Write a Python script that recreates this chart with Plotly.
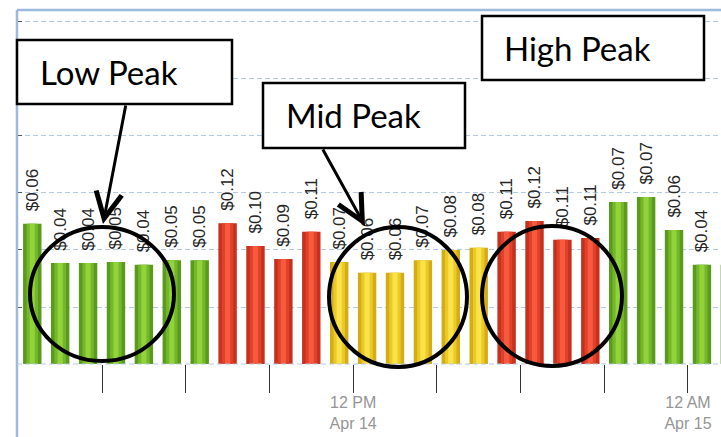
import plotly.graph_objects as go
import pandas as pd

# ---------------- data ----------------
hour_starts = pd.date_range("2014-04-14 00:00", periods=26, freq="h")
usage = [2.46, 1.77, 1.77, 1.79, 1.74, 1.82, 1.82,
         2.47, 2.07, 1.84, 2.32,
         1.79, 1.60, 1.60, 1.82, 2.00, 2.04,
         2.32, 2.51, 2.18, 2.21,
         2.84, 2.93, 2.35, 1.74, 1.74]
cost_labels = ["$0.06", "$0.04", "$0.04", "$0.05", "$0.04", "$0.05", "$0.05",
               "$0.12", "$0.10", "$0.09", "$0.11",
               "$0.07", "$0.06", "$0.06", "$0.07", "$0.08", "$0.08",
               "$0.11", "$0.12", "$0.11", "$0.11",
               "$0.07", "$0.07", "$0.06", "$0.04", "$0.04"]
periods = ["low"] * 7 + ["high"] * 4 + ["mid"] * 6 + ["high"] * 4 + ["low"] * 5

tick_vals = pd.date_range("2014-04-14 03:00", "2014-04-15 03:00", freq="3h")
tick_text = ["", "", "", "12 PM<br>Apr 14", "", "", "", "12 AM<br>Apr 15", ""]

peak_names = ["Low Peak", "Mid Peak", "High Peak"]

# ---------------- styles ----------------
W, H = 721, 437
ML, MR, MT, MB = 17, 0, 10, 73
PW, PH = W - ML - MR, H - MT - MB

def px(x):
    return (x - ML) / PW

def py(y):
    return (H - MB - y) / PH

PALETTE = {
    "low": ["#5a9a1c", "#74b82a", "#92d33c"],
    "mid": ["#d2ad16", "#ecca26", "#fae24c"],
    "high": ["#c5311f", "#e3402a", "#f65a3f"],
}
HOUR_MS = 3600000
BAR_W = 0.66 * HOUR_MS

fig = go.Figure()
for i, frac in enumerate([1.0, 0.62, 0.28]):
    fig.add_trace(go.Bar(
        x=hour_starts, y=usage,
        xperiod=HOUR_MS, xperiodalignment="middle",
        width=BAR_W * frac,
        marker=dict(color=[PALETTE[p][i] for p in periods], line=dict(width=0)),
        text=["\u00a0\u00a0" + t for t in cost_labels] if i == 0 else None,
        textposition="outside" if i == 0 else "none",
        textangle=-90,
        textfont=dict(family="Liberation Sans", size=17, color="#262626"),
        constraintext="none",
        cliponaxis=False,
        hoverinfo="skip",
    ))

grid_col = "#b4c9e3"
fig.update_layout(
    width=W, height=H,
    margin=dict(l=ML, r=MR, t=MT, b=MB, pad=0),
    paper_bgcolor="white", plot_bgcolor="white",
    barmode="overlay", showlegend=False,
    font=dict(family="Liberation Sans"),
    xaxis=dict(
        type="date",
        range=["2014-04-13 23:57:10", "2014-04-15 01:11:00"],
        tickvals=tick_vals, ticktext=tick_text,
        ticks="outside", ticklen=28, tickwidth=1, tickcolor="#333333",
        tickfont=dict(family="Liberation Sans", size=16, color="#959595"),
        ticklabelstandoff=-4,
        showgrid=False, zeroline=False, showline=False,
    ),
    yaxis=dict(
        range=[0, 6.21], dtick=1, tick0=0,
        showticklabels=False,
        ticks="inside", ticklen=5, tickwidth=1, tickcolor="#555555",
        showgrid=True, gridcolor=grid_col, gridwidth=1, griddash="5px,3px",
        zeroline=False, showline=False,
    ),
)

shapes = []
# frame lines
frame_col = "#9db9dc"
shapes.append(dict(type="line", xref="paper", yref="paper", x0=0, x1=0,
                   y0=py(H), y1=py(MT), line=dict(color=frame_col, width=2.5), layer="above"))
shapes.append(dict(type="line", xref="paper", yref="paper", x0=0, x1=px(W),
                   y0=1, y1=1, line=dict(color=frame_col, width=2.5), layer="above"))
# baseline
shapes.append(dict(type="line", xref="paper", yref="paper", x0=0, x1=1, y0=0, y1=0,
                   line=dict(color=grid_col, width=1, dash="5px,3px"), layer="above"))

# circles (cx, cy, rx, ry)
circles = [(102, 294, 72, 67), (398, 297, 69, 70), (552, 296, 70, 70)]
for cx, cy, rx, ry in circles:
    shapes.append(dict(type="circle", xref="paper", yref="paper",
                       x0=px(cx - rx), x1=px(cx + rx), y0=py(cy + ry), y1=py(cy - ry),
                       line=dict(color="black", width=4), layer="above"))

# label boxes (x0, y0, x1, y1, text_left)
boxes = [(17, 40, 232, 104, 38), (263, 83, 465, 148, 284), (482, 16, 704, 80, 502)]
annotations = []
for (x0, y0, x1, y1, tx), name in zip(boxes, peak_names):
    shapes.append(dict(type="rect", xref="paper", yref="paper",
                       x0=px(x0), x1=px(x1), y0=py(y1), y1=py(y0),
                       fillcolor="white", line=dict(color="black", width=2.5), layer="above"))
    annotations.append(dict(xref="paper", yref="paper", x=px(tx), y=py((y0 + y1) / 2),
                            xanchor="left", yanchor="middle", showarrow=False,
                            text=name, font=dict(family="Lato", size=33, color="black")))

# arrows (tip_x, tip_y, tail_x, tail_y)
arrows = [(103, 224, 126, 104), (365, 226, 322, 148)]
for tx, ty, sx, sy in arrows:
    annotations.append(dict(xref="paper", yref="paper", x=px(tx), y=py(ty),
                            ax=sx - tx, ay=sy - ty, text="", showarrow=True,
                            arrowhead=5, arrowsize=1.7, arrowwidth=3, arrowcolor="black",
                            standoff=0, startstandoff=0))

fig.update_layout(shapes=shapes, annotations=annotations)
fig.write_html("out.html", config={"displayModeBar": False},
               post_script="document.body.style.margin='0';")
